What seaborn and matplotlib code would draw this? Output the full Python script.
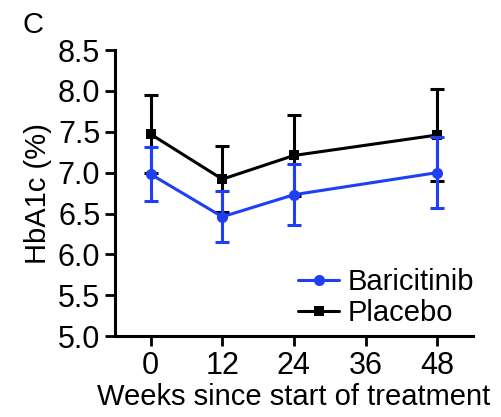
import numpy as np
import pandas as pd
import seaborn as sns
import matplotlib.pyplot as plt

weeks = [0, 12, 24, 48]
baricitinib_mean = [6.98, 6.46, 6.73, 7.00]
baricitinib_sd = [0.33, 0.31, 0.37, 0.43]
placebo_mean = [7.47, 6.92, 7.21, 7.46]
placebo_sd = [0.48, 0.40, 0.49, 0.56]

blue = '#1f3ff5'
black = '#000000'

sns.set_style('ticks')
plt.rcParams['font.family'] = ['Liberation Sans', 'DejaVu Sans']
plt.rcParams['text.color'] = 'black'
plt.rcParams['axes.labelcolor'] = 'black'

df = pd.DataFrame({
    'week': weeks * 2,
    'hba1c': placebo_mean + baricitinib_mean,
    'group': ['Placebo'] * 4 + ['Baricitinib'] * 4,
})

fig = plt.figure(figsize=(5.02, 4.17), dpi=100)
ax = fig.add_axes([0.229, 0.194, 0.713, 0.686])

# placebo first so baricitinib sits on top
ax.errorbar(weeks, placebo_mean, yerr=placebo_sd, fmt='none', ecolor=black,
            elinewidth=2.2, capsize=4.8, capthick=2.2, zorder=2)
sns.lineplot(data=df[df.group == 'Placebo'], x='week', y='hba1c', color=black,
             marker='s', markersize=7, markeredgewidth=0, linewidth=2.2,
             label='Placebo', ax=ax, zorder=3)
ax.errorbar(weeks, baricitinib_mean, yerr=baricitinib_sd, fmt='none', ecolor=blue,
            elinewidth=2.2, capsize=4.8, capthick=2.2, zorder=4)
sns.lineplot(data=df[df.group == 'Baricitinib'], x='week', y='hba1c', color=blue,
             marker='o', markersize=8, markeredgewidth=0, linewidth=2.2,
             label='Baricitinib', ax=ax, zorder=5)

ax.set_xlim(-6, 54)
ax.set_ylim(5.0, 8.5)
ax.set_xticks([0, 12, 24, 36, 48])
ax.set_yticks(np.arange(5.0, 8.51, 0.5))
ax.yaxis.set_major_formatter(plt.FormatStrFormatter('%.1f'))
ax.tick_params(labelsize=22, width=2, length=7, color='black', labelcolor='black')

for s in ['top', 'right']:
    ax.spines[s].set_visible(False)
for s in ['left', 'bottom']:
    ax.spines[s].set_linewidth(2.2)
    ax.spines[s].set_color('black')

ax.set_xlabel('Weeks since start of treatment', fontsize=21, labelpad=2)
ax.set_ylabel('HbA1c (%)', fontsize=21, labelpad=4)

handles, labels = ax.get_legend_handles_labels()
order = [labels.index('Baricitinib'), labels.index('Placebo')]
ax.legend([handles[i] for i in order], [labels[i] for i in order],
          loc='lower right', frameon=False, fontsize=21, handlelength=1.4,
          handletextpad=0.3, labelspacing=0.1, borderaxespad=0.0,
          bbox_to_anchor=(1.037, -0.01))

fig.text(0.045, 0.922, 'C', fontsize=21)

fig.savefig('out.png', dpi=100)
